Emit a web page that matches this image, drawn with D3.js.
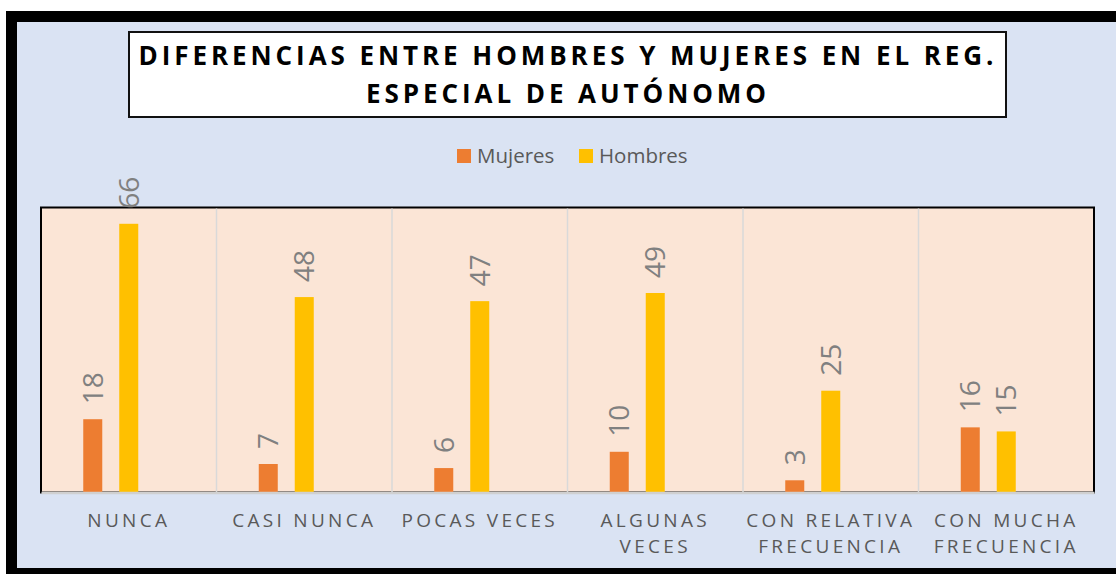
<!DOCTYPE html>
<html>
<head>
<meta charset="utf-8">
<script src="https://cdn.jsdelivr.net/npm/d3@7"></script>
<style>
  html, body { margin: 0; padding: 0; background: #ffffff; }
  svg { display: block; }
</style>
</head>
<body>
<svg id="chart" width="1116" height="574"></svg>
<script>
// ---- data ----
const categories = ["NUNCA", "CASI NUNCA", "POCAS VECES", "ALGUNAS VECES", "CON RELATIVA FRECUENCIA", "CON MUCHA FRECUENCIA"];
const categoryLines = [["NUNCA"], ["CASI NUNCA"], ["POCAS VECES"], ["ALGUNAS", "VECES"], ["CON RELATIVA", "FRECUENCIA"], ["CON MUCHA", "FRECUENCIA"]];
const seriesNames = ["Mujeres", "Hombres"];
const mujeres = [18, 7, 6, 10, 3, 16];
const hombres = [66, 48, 47, 49, 25, 15];
const titleLines = ["DIFERENCIAS ENTRE HOMBRES Y MUJERES EN EL REG.", "ESPECIAL DE AUTÓNOMO"];
const yDomain = [0, 70];

const colors = { Mujeres: "#ED7D31", Hombres: "#FFC000" };
const series = [mujeres, hombres];

const svg = d3.select("#chart");

// outer frame
svg.append("rect").attr("x", 6).attr("y", 11).attr("width", 1200).attr("height", 600).attr("fill", "#000");
svg.append("rect").attr("x", 17).attr("y", 22).attr("width", 1200).attr("height", 546).attr("fill", "#DAE3F3");

// title box
svg.append("rect").attr("x", 129).attr("y", 32).attr("width", 877).attr("height", 85)
  .attr("fill", "#fff").attr("stroke", "#111").attr("stroke-width", 2);

const titleG = svg.append("g");
const tl = titleG.selectAll("text").data(titleLines).join("text")
  .attr("x", 567.5)
  .attr("y", (d, i) => 65 + i * 38)
  .attr("text-anchor", "middle")
  .attr("font-family", "'Open Sans', sans-serif")
  .attr("font-weight", "bold")
  .attr("font-size", 26)
  .attr("fill", "#000")
  .text(d => d);
// fit letter-spacing so first line spans the measured width
const first = tl.nodes()[0];
const w0 = first.getComputedTextLength();
const ls = Math.max(0, (855 - w0) / (titleLines[0].length - 1));
tl.attr("letter-spacing", ls + "px").attr("x", 566 + ls / 2);

// legend
const legend = svg.append("g");
const legX = [457, 579];
seriesNames.forEach((name, i) => {
  legend.append("rect").attr("x", legX[i]).attr("y", 149).attr("width", 14).attr("height", 14).attr("fill", colors[name]);
  legend.append("text").attr("x", legX[i] + 20).attr("y", 163)
    .attr("font-family", "'Open Sans', sans-serif").attr("font-size", 20.5)
    .attr("fill", "#595959").text(name);
});

// plot area
const plot = { left: 41, right: 1094, top: 207.5, bottom: 492.5 };
svg.append("rect").attr("x", plot.left).attr("y", plot.top)
  .attr("width", plot.right - plot.left).attr("height", plot.bottom - plot.top)
  .attr("fill", "#FBE5D6").attr("stroke", "#000").attr("stroke-width", 2);

const x = d3.scaleBand().domain(categories).range([plot.left, plot.right]).padding(0);
// three slots per category (third slot empty), as in the source chart
const xInner = d3.scaleBand().domain([0, 1, 2]).range([0, x.bandwidth()]).paddingInner(0.472).paddingOuter(1.174);
const y = d3.scaleLinear().domain(yDomain).range([plot.bottom, plot.top]);

// vertical grid lines between categories
svg.append("g").selectAll("line").data(categories.slice(1)).join("line")
  .attr("x1", d => x(d)).attr("x2", d => x(d))
  .attr("y1", plot.top + 1).attr("y2", plot.bottom)
  .attr("stroke", "#D9D9D9").attr("stroke-width", 1.5);

// bars
series.forEach((vals, si) => {
  const g = svg.append("g");
  g.selectAll("rect").data(vals).join("rect")
    .attr("x", (d, i) => x(categories[i]) + xInner(si))
    .attr("width", xInner.bandwidth())
    .attr("y", d => y(d))
    .attr("height", d => y(0) - y(d))
    .attr("fill", colors[seriesNames[si]]);
  g.selectAll("text").data(vals).join("text")
    .attr("transform", (d, i) => `translate(${x(categories[i]) + xInner(si) + xInner.bandwidth() / 2},${y(d) - 15}) rotate(-90)`)
    .attr("dy", "0.36em")
    .attr("font-family", "'Open Sans', sans-serif")
    .attr("font-size", 28)
    .attr("fill", "#808080")
    .text(d => d);
});

// x axis
const xAxis = d3.axisBottom(x).tickSize(0).tickFormat("");
const axG = svg.append("g").attr("transform", `translate(0,${plot.bottom})`).call(xAxis);
axG.select(".domain").attr("stroke", "#D0D0D0").attr("stroke-width", 2.5);
axG.selectAll(".tick").each(function(d, i) {
  const t = d3.select(this).append("text")
    .attr("text-anchor", "middle")
    .attr("font-family", "'Open Sans', sans-serif")
    .attr("font-size", 19)
    .attr("letter-spacing", "3.3px")
    .attr("fill", "#595959");
  categoryLines[i].forEach((line, li) => {
    t.append("tspan").attr("x", 0).attr("y", 34 + li * 26).text(line);
  });
});
</script>
</body>
</html>
